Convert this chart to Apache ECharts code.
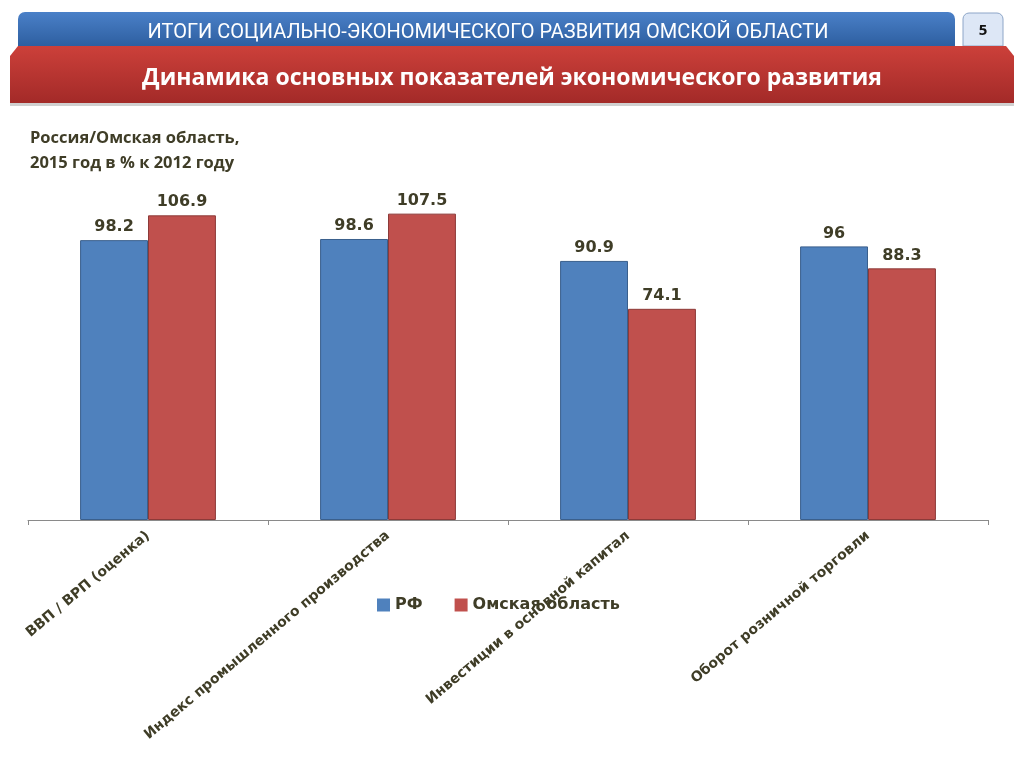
<!DOCTYPE html>
<html><head><meta charset="utf-8">
<script src="https://cdn.jsdelivr.net/npm/echarts@6/dist/echarts.min.js"></script>
<style>html,body{margin:0;padding:0;background:#fff;}#c{width:1024px;height:768px;}</style>
</head><body><div id="c"></div>
<script>
const categories = ['ВВП / ВРП (оценка)', 'Индекс промышленного производства', 'Инвестиции в основной капитал', 'Оборот розничной торговли'];
const seriesNames = ['РФ', 'Омская область'];
const rfValues = [98.2, 98.6, 90.9, 96];
const omskValues = [106.9, 107.5, 74.1, 88.3];

const dark = '#3f3d27';
const font = '"DejaVu Sans", sans-serif';
const chart = echarts.init(document.getElementById('c'));
chart.setOption({
  animation: false,
  backgroundColor: '#fff',
  graphic: [
    {type:'rect', shape:{x:18,y:12,width:937,height:36,r:[7,7,0,0]},
     style:{fill:new echarts.graphic.LinearGradient(0,0,0,1,[{offset:0,color:'#4a80c8'},{offset:1,color:'#2c5d9e'}])}},
    {type:'text', style:{x:488,y:33,text:'ИТОГИ СОЦИАЛЬНО-ЭКОНОМИЧЕСКОГО РАЗВИТИЯ ОМСКОЙ ОБЛАСТИ', fill:'#fff', font:'20px "Liberation Sans Narrow", "Roboto", sans-serif', align:'center', verticalAlign:'middle'}},
    {type:'rect', shape:{x:963,y:13,width:40,height:33,r:[6,6,0,0]}, style:{fill:'#dde7f6', stroke:'#8ea6c8', lineWidth:1}},
    {type:'text', style:{x:983,y:31,text:'5', fill:'#111', font:'bold 15px "Open Sans", sans-serif', align:'center', verticalAlign:'middle'}},
    {type:'rect', shape:{x:10,y:101,width:1004,height:5}, style:{fill:'#d0d0d0'}},
    {type:'polygon', shape:{points:[[18,46],[1006,46],[1014,56],[1014,103],[10,103],[10,56]]},
     style:{fill:new echarts.graphic.LinearGradient(0,0,0,1,[{offset:0,color:'#cc403a'},{offset:1,color:'#a32a28'}])}},
    {type:'text', style:{x:512,y:78,text:'Динамика основных показателей экономического развития', fill:'#fff', font:'bold 23px "Open Sans", sans-serif', align:'center', verticalAlign:'middle'}},
    {type:'text', style:{x:30,y:126,text:'Россия/Омская область,\n2015 год в % к 2012 году', fill:dark, font:'bold 16.5px "Open Sans", sans-serif', lineHeight:25}}
  ],
  legend: {
    left: 372, top: 592, itemWidth: 13, itemHeight: 13, itemGap: 32,
    icon: 'rect',
    itemStyle: {borderWidth: 0},
    textStyle: {fontFamily: font, fontWeight: 'bold', fontSize: 16, color: dark},
    data: seriesNames
  },
  grid: {left: 28, right: 36, top: 178, bottom: 248},
  xAxis: {
    type: 'category', data: categories,
    axisLine: {lineStyle: {color: '#8a8a8a'}},
    axisTick: {show: true, length: 5, lineStyle: {color: '#8a8a8a'}},
    axisLabel: {interval: 0, rotate: 40, margin: 14, fontFamily: font, fontWeight: 'bold', fontSize: 14, color: dark}
  },
  yAxis: {type: 'value', min: 0, max: 120, show: false, splitLine: {show: false}},
  series: [
    {name: seriesNames[0], type: 'bar', data: rfValues, barWidth: '28.3%', barGap: '0%',
     itemStyle: {color: '#4f81bd', borderColor: '#3a5f8c', borderWidth: 1},
     label: {show: true, position: 'top', distance: 5, fontFamily: font, fontWeight: 'bold', fontSize: 16, color: dark}},
    {name: seriesNames[1], type: 'bar', data: omskValues, barWidth: '28.3%', barGap: '0%',
     itemStyle: {color: '#c0504d', borderColor: '#8c3a38', borderWidth: 1},
     label: {show: true, position: 'top', distance: 5, fontFamily: font, fontWeight: 'bold', fontSize: 16, color: dark}}
  ]
});
</script></body></html>
